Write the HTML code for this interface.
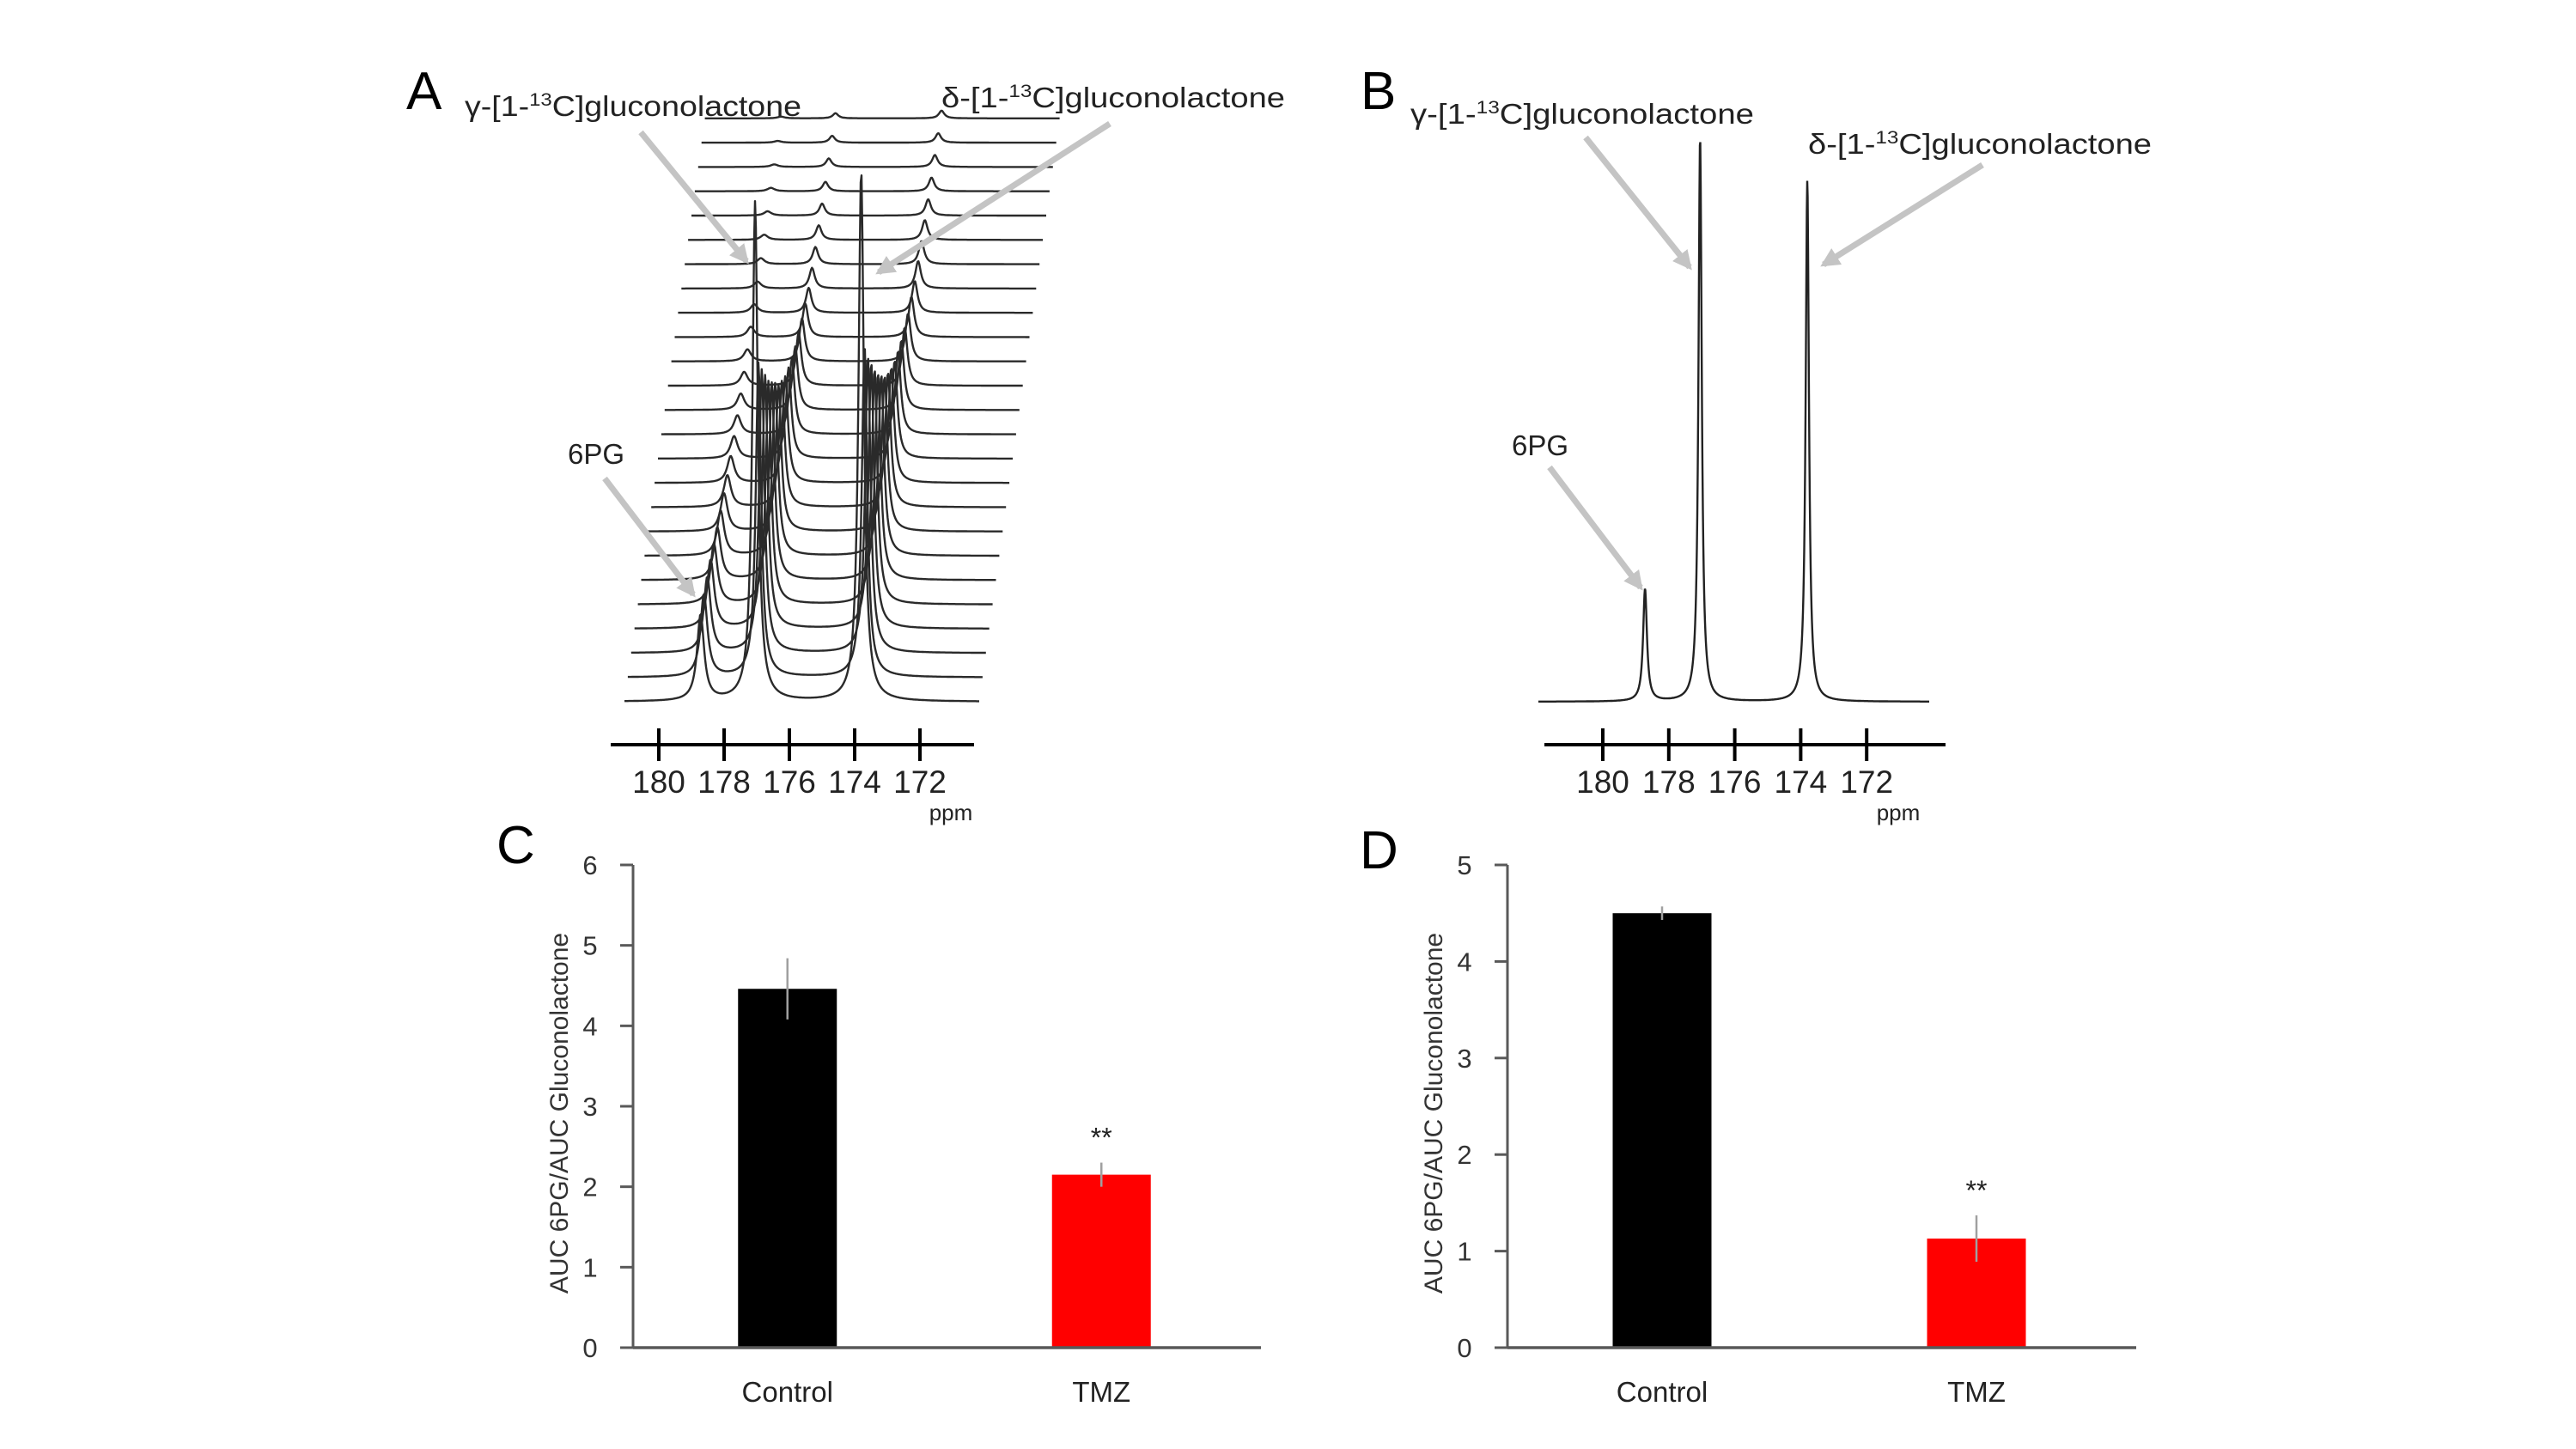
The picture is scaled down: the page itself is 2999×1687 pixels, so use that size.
<!DOCTYPE html>
<html><head><meta charset="utf-8"><style>
body{margin:0;background:#fff}
svg{display:block}
text{font-family:"Liberation Sans",sans-serif}
</style></head><body>
<svg id="fig" width="2999" height="1687" viewBox="0 0 2999 1687" xmlns="http://www.w3.org/2000/svg">
<defs>
<marker id="ah" viewBox="0 0 10 10" refX="8" refY="5" markerWidth="3.2" markerHeight="3.2" orient="auto"><path d="M0,0 L10,5 L0,10 z" fill="#c4c4c4"/></marker>
</defs>
<g id="panelA"></g>
<g id="panelB"></g>
<g id="panelC"></g>
<g id="panelD"></g>
</svg>
<script>
// ---- data ----
const ppmTicks = [180, 178, 176, 174, 172];
const peakPPM = [178.72, 177.05, 173.8]; // 6PG, gamma, delta
// Panel A stacked spectra peak heights (arbitrary units) per time point, bottom to top
const pgHeightsA = [100,96,88,80,70,61,52,44,37,31,26,22,19,16,14,12,10,8,7,6,5,4,3,2,2];
const gammaHeightsA = [582,366,330,295,260,230,201,171,147,124,106,89,74,62,50,39,29,24,20,17,14,11,10,8,6];
const deltaHeightsA = [619,386,346,310,274,241,211,181,157,134,114,97,81,68,56,47,37,32,27,23,19,16,14,11,9];
// Panel B single spectrum peak heights
const pgHeightB = [131];
const gammaHeightB = [657];
const deltaHeightB = [607];
// Panel C / D
const categories = ["Control", "TMZ"];
const cValues = [4.46, 2.15];
const cErrors = [0.38, 0.15];
const cTicks = [0,1,2,3,4,5,6];
const dValues = [4.5, 1.13];
const dErrors = [0.07, 0.24];
const dTicks = [0,1,2,3,4,5];
const sigLabels = ["", "**"];

const NS = "http://www.w3.org/2000/svg";
function mk(parent, tag, attrs, txt){
  const e = document.createElementNS(NS, tag);
  for (const k in attrs) e.setAttribute(k, attrs[k]);
  if (txt !== undefined) e.textContent = txt;
  parent.appendChild(e);
  return e;
}
function lor(x, x0, h, w){ const d=(x-x0)/w; return h/(1+d*d); }
function supLabel(g, x, y, greek, len, name){
  const t = mk(g,'text',{x:x,y:y,'font-size':33,fill:'#222',textLength:len,lengthAdjust:'spacingAndGlyphs'});
  t.innerHTML = greek + '-[1-<tspan font-size="21" dy="-12">13</tspan><tspan dy="12">C]gluconolactone</tspan>';
  
  
}
function arrow(g, a){
  const l = mk(g,'line',{x1:a[0],y1:a[1],x2:a[2],y2:a[3],stroke:'#c4c4c4','stroke-width':7,'marker-end':'url(#ah)'});
  
  
}
function ppmAxis(g, ax, xs, name){
  const axl = mk(g,'line',{x1:ax.x1,y1:ax.y,x2:ax.x2,y2:ax.y,stroke:'#000','stroke-width':4});
  
  
  ppmTicks.forEach(v => {
    const x = xs(v);
    const tk = mk(g,'line',{x1:x,y1:ax.y-19,x2:x,y2:ax.y+19,stroke:'#000','stroke-width':4});
    
    
    const tl = mk(g,'text',{x:x,y:ax.y+56,'font-size':37,'text-anchor':'middle',fill:'#222'},String(v));
    
    
  });
  const t = mk(g,'text',{x:ax.ppmX,y:ax.y+88,'font-size':26,'text-anchor':'middle',fill:'#222'},'ppm');
  
  
}

// ---- Panel A ----
const A = document.getElementById('panelA');
const axA = { x180: 767, ppx: 38 };
const xA = ppm => axA.x180 + (180 - ppm) * axA.ppx;
{
  const t = mk(A,'text',{x:473,y:127,'font-size':62,fill:'#000'},'A');
  
  
  for (let k = pgHeightsA.length - 1; k >= 0; k--) {
    const dx = k * 3.9, base = 817 - k * 28.3;
    let d = '';
    for (let x = 727; x <= 1140; x += 1) {
      const ppm = 180 - (x - axA.x180) / axA.ppx;
      const y = lor(ppm, peakPPM[0], pgHeightsA[k], 0.13) + lor(ppm, peakPPM[1], gammaHeightsA[k], 0.1) + lor(ppm, peakPPM[2], deltaHeightsA[k], 0.1);
      d += (d ? 'L' : 'M') + (x + dx).toFixed(1) + ',' + (base - y).toFixed(1);
    }
    const p = mk(A,'path',{d:d,fill:'none',stroke:'#2a2a2a','stroke-width':2.4,'stroke-linejoin':'round'});
    
    
  }
  ppmAxis(A, {x1:711,x2:1134,y:867,ppmX:1107}, xA, 'ppm-axis-a');
  supLabel(A, 541, 135, 'γ', 392, 'gamma-label-a');
  supLabel(A, 1096, 125, 'δ', 400, 'delta-label-a');
  const p6 = mk(A,'text',{x:661,y:540,'font-size':33,fill:'#222'},'6PG');
  
  
  arrow(A,[746,154,869,304,'gamma-arrow-a']);
  arrow(A,[1292,144,1023,317,'delta-arrow-a']);
  arrow(A,[704,557,807,692,'6pg-arrow-a']);
}

// ---- Panel B ----
const B = document.getElementById('panelB');
const axB = { x180: 1866, ppx: 38.4 };
const xB = ppm => axB.x180 + (180 - ppm) * axB.ppx;
{
  const t = mk(B,'text',{x:1584,y:127,'font-size':62,fill:'#000'},'B');
  
  
  let d = '';
  for (let x = 1791; x <= 2246; x += 0.5) {
    const ppm = 180 - (x - axB.x180) / axB.ppx;
    const y = lor(ppm, peakPPM[0], pgHeightB[0], 0.07) + lor(ppm, peakPPM[1], gammaHeightB[0], 0.06) + lor(ppm, peakPPM[2], deltaHeightB[0], 0.06);
    d += (d ? 'L' : 'M') + x.toFixed(1) + ',' + (817 - y).toFixed(1);
  }
  const p = mk(B,'path',{d:d,fill:'none',stroke:'#222','stroke-width':2.4});
  
  
  ppmAxis(B, {x1:1798,x2:2265,y:867,ppmX:2210}, xB, 'ppm-axis-b');
  supLabel(B, 1642, 144, 'γ', 400, 'gamma-label-b');
  supLabel(B, 2105, 179, 'δ', 400, 'delta-label-b');
  const p6 = mk(B,'text',{x:1760,y:530,'font-size':33,fill:'#222'},'6PG');
  
  
  arrow(B,[1846,160,1967,311,'gamma-arrow-b']);
  arrow(B,[2308,192,2123,308,'delta-arrow-b']);
  arrow(B,[1804,544,1910,684,'6pg-arrow-b']);
}

// ---- Bar charts ----
function barChart(g, cfg){
  const yScale = v => cfg.y0 - v * (cfg.y0 - cfg.yTop) / cfg.ticks[cfg.ticks.length-1];
  let t = mk(g,'text',{x:cfg.lx,y:cfg.ly,'font-size':62,fill:'#000'},cfg.letter);
  
  
  const ya = mk(g,'line',{x1:cfg.ax,y1:cfg.yTop,x2:cfg.ax,y2:cfg.y0,stroke:'#595959','stroke-width':3});
  
  
  cfg.ticks.forEach(v=>{
    const y = yScale(v);
    const tk = mk(g,'line',{x1:cfg.ax-15,y1:y,x2:cfg.ax,y2:y,stroke:'#595959','stroke-width':3});
    
    
    const tl = mk(g,'text',{x:cfg.ax-50,y:y+11,'font-size':31,'text-anchor':'middle',fill:'#333'},String(v));
    
    
  });
  t = mk(g,'text',{x:0,y:0,'font-size':30,'text-anchor':'middle',fill:'#333',transform:`translate(${cfg.ax-76},${(cfg.y0+cfg.yTop)/2+8}) rotate(-90)`},'AUC 6PG/AUC Gluconolactone');
  
  
  const colors = ['#000','#ff0000'];
  const groupW = (cfg.axEnd - cfg.ax) / categories.length;
  categories.forEach((c,i)=>{
    const cx = cfg.ax + groupW * (i + 0.5) - 3;
    const bw = 115;
    const yt = yScale(cfg.values[i]);
    const r = mk(g,'rect',{x:cx-bw/2,y:yt,width:bw,height:cfg.y0-yt,fill:colors[i]});
    
    
    const e = mk(g,'line',{x1:cx,y1:yScale(cfg.values[i]+cfg.errors[i]),x2:cx,y2:yScale(cfg.values[i]-cfg.errors[i]),stroke:'#a0a0a0','stroke-width':2.5});
    
    
    const xl = mk(g,'text',{x:cx,y:cfg.y0+63,'font-size':33,'text-anchor':'middle',fill:'#222'},c);
    
    
    if (sigLabels[i]) {
      const s = mk(g,'text',{x:cx,y:yScale(cfg.values[i]+cfg.errors[i])-18,'font-size':32,'text-anchor':'middle',fill:'#222'},sigLabels[i]);
      
      
    }
  });
  const xa = mk(g,'line',{x1:cfg.ax,y1:cfg.y0,x2:cfg.axEnd,y2:cfg.y0,stroke:'#595959','stroke-width':3.5});
  
  
}
barChart(document.getElementById('panelC'),{letter:'C',lx:578,ly:1005,ax:737,axEnd:1468,y0:1569,yTop:1007,ticks:cTicks,values:cValues,errors:cErrors});
barChart(document.getElementById('panelD'),{letter:'D',lx:1583,ly:1011,ax:1755,axEnd:2487,y0:1569,yTop:1007,ticks:dTicks,values:dValues,errors:dErrors});
</script>
</body></html>
